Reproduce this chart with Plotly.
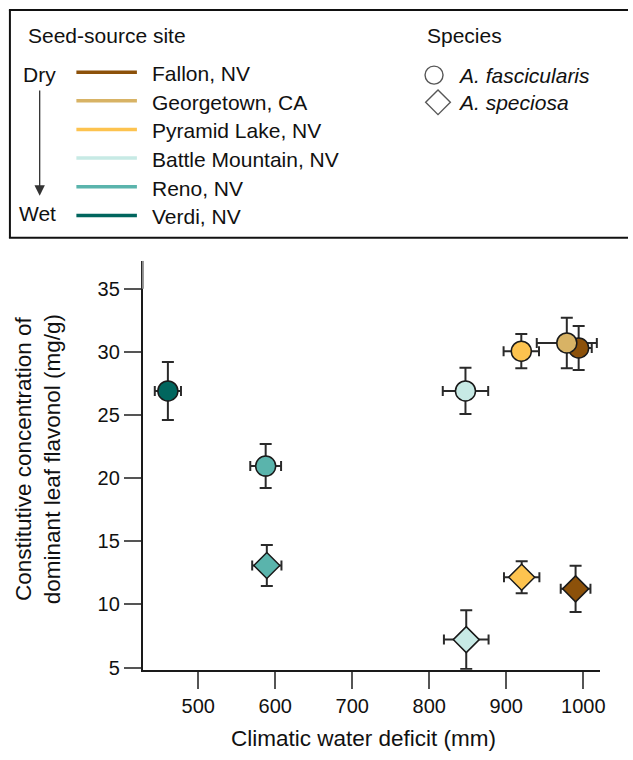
import plotly.graph_objects as go

# ---------------- data ----------------
sites = ["Fallon, NV", "Georgetown, CA", "Pyramid Lake, NV",
         "Battle Mountain, NV", "Reno, NV", "Verdi, NV"]
site_colors = ["#8c510a", "#d8b365", "#fdc34f", "#c7eae5", "#5ab4ac", "#01665e"]

# A. fascicularis (circles)
fas_sites = ["Fallon, NV", "Georgetown, CA", "Pyramid Lake, NV",
             "Battle Mountain, NV", "Reno, NV", "Verdi, NV"]
fas_cwd = [994, 978.6, 919.5, 847, 587.5, 460.5]
fas_cwd_err = [17, 39, 23, 29.5, 20, 17]
fas_flav = [30.3, 30.7, 30.05, 26.9, 20.95, 26.9]
fas_flav_err = [1.75, 2.0, 1.36, 1.83, 1.74, 2.3]

# A. speciosa (diamonds)
spe_sites = ["Fallon, NV", "Pyramid Lake, NV", "Battle Mountain, NV", "Reno, NV"]
spe_cwd = [990, 920, 848, 589]
spe_cwd_err = [19.3, 23, 29, 19]
spe_flav = [11.23, 12.15, 7.21, 13.08]
spe_flav_err = [1.83, 1.26, 2.33, 1.62]

x_ticks = [500, 600, 700, 800, 900, 1000]
y_ticks = [5, 10, 15, 20, 25, 30, 35]

species = ["A. fascicularis", "A. speciosa"]

# ---------------- figure ----------------
W, H = 633, 760
FONT = "Liberation Sans, Arial, Helvetica, sans-serif"
color_of = dict(zip(sites, site_colors))
LEG_FS = 21
Y_RANGE = [4.83, 37.2]

fig = go.Figure()

err_style = dict(color="#2a2a2a", thickness=2)

fig.add_trace(go.Scatter(
    x=fas_cwd, y=fas_flav, mode="markers",
    marker=dict(symbol="circle", size=20,
                color=[color_of[s] for s in fas_sites],
                line=dict(color="#1a1a1a", width=1.5)),
    error_x=dict(type="data", array=fas_cwd_err, width=5, **err_style),
    error_y=dict(type="data", array=fas_flav_err, width=6, **err_style),
    name=species[0], xaxis="x", yaxis="y",
))
fig.add_trace(go.Scatter(
    x=spe_cwd, y=spe_flav, mode="markers",
    marker=dict(symbol="diamond", size=20,
                color=[color_of[s] for s in spe_sites],
                line=dict(color="#1a1a1a", width=1.5)),
    error_x=dict(type="data", array=spe_cwd_err, width=5, **err_style),
    error_y=dict(type="data", array=spe_flav_err, width=6, **err_style),
    name=species[1], xaxis="x", yaxis="y",
))

# pixel overlay (x2/y2 in pixel units) for the key box
fig.add_trace(go.Scatter(
    x=[437.5, 441.5], y=[76, 103.5], mode="markers",
    marker=dict(symbol=["circle", "diamond"], size=[18, 19], color="white",
                line=dict(color="#111111", width=1.4)),
    xaxis="x2", yaxis="y2", cliponaxis=False, hoverinfo="skip",
))

shapes = []
annotations = []


def text(x, y, s, size=LEG_FS, xanchor="left", **kw):
    annotations.append(dict(xref="x2", yref="y2", x=x, y=y, text=s,
                            showarrow=False, xanchor=xanchor, yanchor="middle",
                            font=dict(size=size, color="#111111"), **kw))


def hline(x0, x1, y, color, width):
    shapes.append(dict(type="line", xref="x2", yref="y2", x0=x0, x1=x1, y0=y, y1=y,
                       line=dict(color=color, width=width)))


# key box (right side runs off the page)
hline(9, W + 5, 10, "#111111", 2)
hline(9, W + 5, 240.5, "#111111", 2)
shapes.append(dict(type="line", xref="x2", yref="y2", x0=10, x1=10, y0=10, y1=240.5,
                   line=dict(color="#111111", width=2)))

text(26, 35.5, "Seed-source site")
text(428, 35.5, "Species")
text(40, 75, "Dry", xanchor="center")
text(37.5, 216, "Wet", xanchor="center")
annotations.append(dict(xref="x2", yref="y2", x=40, y=198, ax=40, ay=90,
                        axref="x2", ayref="y2", text="", showarrow=True,
                        arrowhead=2, arrowsize=1.6, arrowwidth=1.3, arrowcolor="#333333",
                        standoff=0))

line_y = [73, 102, 131, 160, 189, 218]
for s, c, yy in zip(sites, site_colors, line_y):
    hline(77, 138, yy, c, 3.5)
    text(151, yy + 1.5, s)

for sp, yy in zip(species, [76, 103.5]):
    text(460, yy, "<i>" + sp + "</i>")

# axis titles
text(366, 747, "Climatic water deficit (mm)", size=22.5, xanchor="center")
text(39, 465, "Constitutive concentration of<br>dominant leaf flavonol (mg/g)",
     size=22.5, xanchor="center", textangle=-90)

# lighter top segment of the y-axis line (above the last tick)
shapes.append(dict(type="line", xref="x domain", yref="y", x0=0, x1=0,
                   y0=y_ticks[-1], y1=Y_RANGE[1], line=dict(color="#8a8a8a", width=2)))

axis_common = dict(showgrid=False, zeroline=False, showline=True, linewidth=2,
                   linecolor="#1a1a1a", ticks="outside", ticklen=17, tickwidth=2,
                   tickcolor="#555555", tickfont=dict(size=20, color="#111111"))

fig.update_layout(
    width=W, height=H,
    margin=dict(l=0, r=0, t=0, b=0, pad=0),
    paper_bgcolor="white", plot_bgcolor="rgba(0,0,0,0)",
    font=dict(family=FONT, color="#111111"),
    showlegend=False,
    xaxis=dict(domain=[144 / W, 605 / W], range=[428, 1022], tickvals=x_ticks,
               anchor="y", **axis_common),
    yaxis=dict(domain=[(H - 677.7) / H, (H - 264) / H], range=Y_RANGE,
               tickvals=y_ticks, anchor="x", **axis_common),
    xaxis2=dict(domain=[0, 1], range=[0, W], visible=False, anchor="y2", fixedrange=True),
    yaxis2=dict(domain=[0, 1], range=[H, 0], visible=False, anchor="x2", fixedrange=True),
    shapes=shapes,
    annotations=annotations,
)

fig.write_html("out.html", config={"displayModeBar": False},
               post_script="document.body.style.margin='0';document.body.style.overflow='hidden';")
